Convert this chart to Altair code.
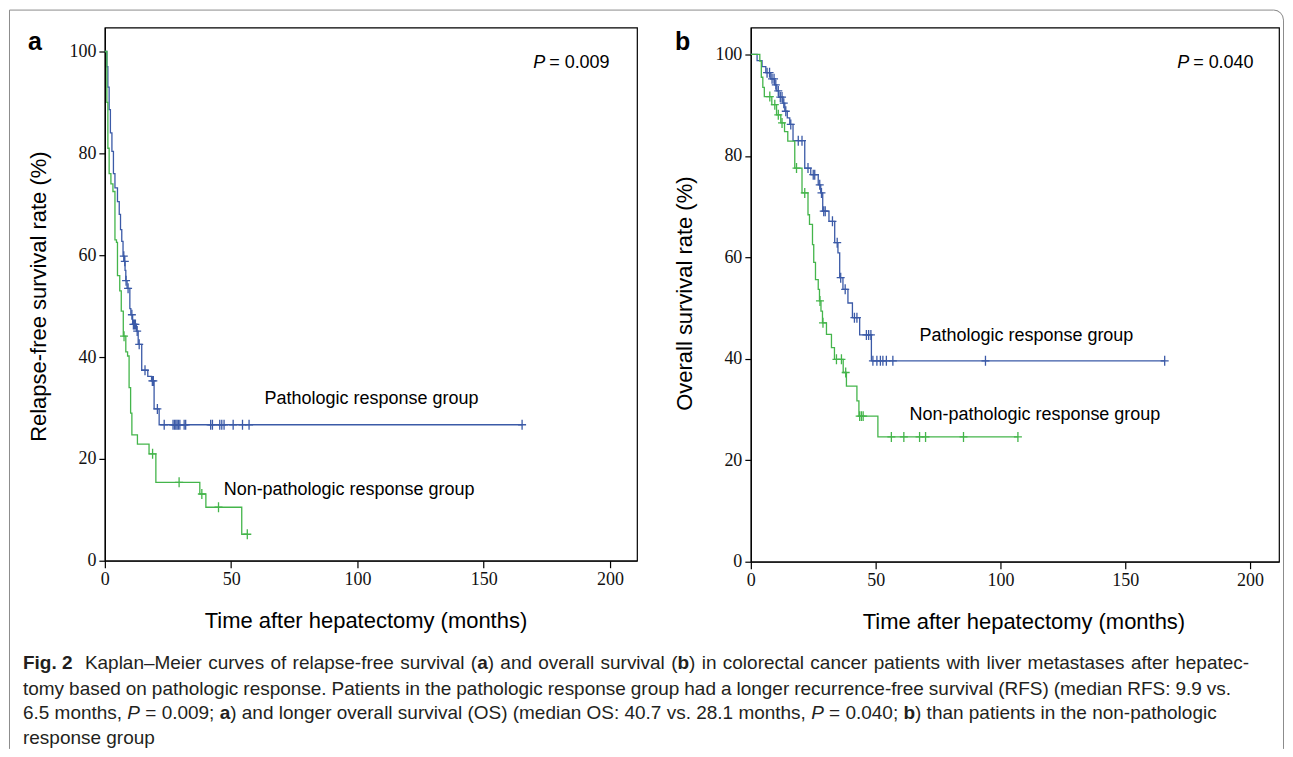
import altair as alt
import pandas as pd

BLUE = "#3B5AA7"
GREEN = "#44B54B"
FRAME = "#8c8c8c"
SANS = "Liberation Sans, Arial, sans-serif"
SERIF = "Liberation Serif, Times New Roman, serif"

# ---------------- Panel a : relapse-free survival ----------------
A_PR_T = [0, 0.8, 1.2, 1.7, 2.2, 2.8, 3.4, 4.0, 5.0, 5.7, 6.2, 6.7, 7.2, 7.7, 8.0, 8.3, 8.8, 9.9,
          10.3, 11.0, 12.5, 13.2, 14.6, 17.0, 18.5, 19.5, 21.5, 165.2]
A_PR_S = [100, 97, 93, 88.6, 84, 80.4, 76, 73.2, 70.5, 68, 65, 62.7, 59.8, 58.8, 57, 55, 53.5, 49.5,
          48.3, 46.4, 45.1, 42.5, 37.4, 36.2, 35.3, 29.8, 26.7, 26.7]
A_PR_C = [7.5, 7.9, 8.4, 9.2, 10.7, 11.3, 11.7, 12.1, 12.8, 13.6, 15.9, 18.8, 19.2, 20.8, 23.5,
          27.0, 27.6, 28.1, 28.6, 29.1, 29.7, 31.4, 32.0, 41.9, 42.6, 45.5, 46.3, 47.2, 50.8,
          54.5, 57.1, 165.2]

A_NR_T = [0, 0.8, 1.2, 1.7, 2.4, 3.2, 4.0, 4.6, 5.0, 5.9, 6.5, 7.3, 8.3, 9.0, 9.6, 10.2, 10.7,
          12.9, 17.5, 20.2, 37.6, 40.0, 54.2, 56.4]
A_NR_S = [100, 90, 81, 76, 74, 72.5, 63, 62.5, 56, 53, 49, 44.1, 41, 40.2, 34, 29, 24.7,
          22.9, 21.0, 15.4, 13.1, 10.5, 5.2, 5.2]
A_NR_C = [7.6, 18.9, 29.4, 38.4, 45.0, 56.4]

# ---------------- Panel b : overall survival ----------------
B_PR_T = [0, 2.5, 4.5, 6.0, 8.0, 9.5, 10.4, 11.2, 12.8, 13.6, 14.6, 15.6, 16.9, 21.6, 24.0, 27.0,
          28.0, 28.8, 31.3, 33.6, 34.9, 35.6, 36.9, 38.9, 40.7, 43.6, 48.3, 165.8]
B_PR_S = [100, 98.8, 97.6, 96.4, 95.2, 94.0, 92.8, 91.6, 90.4, 88.8, 87.5, 86.2, 83.0, 77.6, 76.3,
          74.3, 72.7, 69.1, 67.1, 62.9, 60.9, 56.0, 53.7, 51.0, 48.1, 44.7, 39.6, 39.6]
B_PR_C = [6.5, 7.5, 8.5, 9.3, 10.0, 11.0, 11.8, 12.5, 13.2, 14.0, 16.0, 19.0, 20.5, 22.9, 25.0,
          25.6, 27.6, 28.3, 29.2, 29.8, 32.7, 34.6, 36.0, 37.8, 41.5, 42.5, 46.3, 47.2, 48.1,
          48.9, 50.5, 51.9, 52.9, 54.3, 56.9, 94.0, 165.8]

B_NR_T = [0, 3.6, 4.2, 4.8, 5.4, 8.4, 10.3, 12.0, 13.5, 14.8, 17.6, 20.5, 22.9, 23.5, 24.7, 25.2,
          25.9, 27.0, 27.5, 28.1, 28.7, 30.3, 32.3, 33.5, 37.0, 38.3, 42.5, 43.3, 50.9, 107.0]
B_NR_S = [100, 98.7, 95.5, 93.5, 91.7, 90.1, 88.1, 86.5, 84.8, 82.9, 77.6, 72.7, 68.4, 66.5, 62.5,
          59.0, 55.6, 53.7, 51.4, 49.4, 47.1, 44.8, 42.2, 39.9, 37.3, 34.6, 31.7, 28.7, 24.6, 24.6]
B_NR_C = [7.6, 9.6, 11.0, 12.5, 18.3, 21.6, 27.7, 28.9, 34.3, 36.3, 38.0, 43.6, 44.3, 45.0,
          56.3, 61.3, 67.6, 70.0, 85.2, 107.0]

X_TICKS = [0, 50, 100, 150, 200]
Y_TICKS = [0, 20, 40, 60, 80, 100]

# caption: *x* = bold, _x_ = italic
CAPTION = [
    "Kaplan\u2013Meier curves of relapse-free survival (*a*) and overall survival (*b*) in colorectal cancer patients with liver metastases after hepatec-",
    "tomy based on pathologic response. Patients in the pathologic response group had a longer recurrence-free survival (RFS) (median RFS: 9.9 vs.",
    "6.5 months, _P_ = 0.009; *a*) and longer overall survival (OS) (median OS: 40.7 vs. 28.1 months, _P_ = 0.040; *b*) than patients in the non-pathologic",
    "response group",
]

# ---- layout helpers (Arial/Liberation Sans advance widths, 1/1000 em) ----
_W = {" ": 278, "(": 333, ")": 333, ",": 278, "-": 333, ".": 278, ":": 278, ";": 278, "=": 584,
      "%": 889, "\u2013": 556}
for _c in "0123456789":
    _W[_c] = 556
_W.update(dict(zip("ABCDEFGHIJKLMNOPQRSTUVWXYZ",
                   [667, 667, 722, 722, 667, 611, 778, 722, 278, 500, 667, 556, 833, 722, 778,
                    667, 778, 722, 667, 611, 722, 667, 944, 667, 667, 611])))
_W.update(dict(zip("abcdefghijklmnopqrstuvwxyz",
                   [556, 556, 500, 556, 556, 278, 556, 556, 222, 222, 500, 222, 833, 556, 556,
                    556, 556, 333, 500, 278, 556, 500, 722, 500, 500, 500])))
_WB = dict(_W)
_WB.update({"b": 611, "g": 611, "i": 278, "F": 611})


def tw(s, size, bold=False):
    tab = _WB if bold else _W
    return sum(tab.get(ch, 556) for ch in s) * size / 1000.0


def runs_of(word):
    out, cur, mode = [], "", "n"
    for ch in word:
        if ch in "*_":
            m = "b" if ch == "*" else "i"
            if cur:
                out.append((cur, mode))
            cur = ""
            mode = "n" if mode == m else m
        else:
            cur += ch
    if cur:
        out.append((cur, mode))
    return out


def step_value(ts, ss, t):
    v = ss[0]
    for ti, si in zip(ts, ss):
        if ti <= t:
            v = si
    return v


def one():
    return alt.Chart(alt.Data(values=[{}]))


def txt(text, x, y, size, font=SANS, weight="normal", style="normal",
        align="left", baseline="alphabetic", color="black"):
    return one().mark_text(
        text=text, font=font, fontSize=size, fontWeight=weight, fontStyle=style,
        align=align, baseline=baseline, color=color
    ).encode(x=alt.value(x), y=alt.value(y))


def caption_line(line, x0, y, size, x1=None, color="#231f20"):
    """Lay a caption line out run by run; optionally stretch word gaps to reach x1."""
    words = [runs_of(w) for w in line.split(" ")]
    widths = [sum(tw(t, size, m == "b") for t, m in w) for w in words]
    gap = tw(" ", size)
    if x1 is not None and len(words) > 1:
        natural = sum(widths) + gap * (len(words) - 1)
        gap = gap + (x1 - x0 - natural) / (len(words) - 1)
    marks, x = [], x0
    for w, wd in zip(words, widths):
        xx = x
        for t, m in w:
            marks.append(txt(t, round(xx, 2), y, size, weight="bold" if m == "b" else "normal",
                             style="italic" if m == "i" else "normal", color=color))
            xx += tw(t, size, m == "b")
        x += wd + gap
    return marks


def panel(curves, xmax, ymax, width, height, ytitle, ytitle_y, xtitle_x, extra):
    xenc = alt.X("t:Q", scale=alt.Scale(domain=[0, xmax], nice=False, zero=False),
                 axis=alt.Axis(values=X_TICKS, title="Time after hepatectomy (months)",
                               titleX=xtitle_x, titleY=60, titleBaseline="middle",
                               titleAlign="center"))
    yenc = alt.Y("s:Q", scale=alt.Scale(domain=[0, ymax], nice=False, zero=False),
                 axis=alt.Axis(values=Y_TICKS, title=ytitle, titleX=-66, titleY=ytitle_y,
                               titleAngle=270, titleBaseline="middle", titleAlign="center"))
    layers = []
    for ts, ss, cs, col in curves:
        line_df = pd.DataFrame({"t": ts, "s": ss})
        cen_df = pd.DataFrame({"t": cs, "s": [step_value(ts, ss, c) for c in cs]})
        layers.append(alt.Chart(line_df).mark_line(interpolate="step-after", color=col,
                                                   strokeWidth=1.3).encode(x=xenc, y=yenc))
        layers.append(alt.Chart(cen_df).mark_point(shape="M-0.8,0L0.8,0M0,-1L0,1", size=100,
                                                   filled=False, color=col, strokeWidth=1.3,
                                                   opacity=1).encode(x=xenc, y=yenc))
    return alt.layer(*layers, *extra).properties(width=width, height=height)


# panel a plot origin on page: (104, 26); panel b plot origin: (751, 26)
OX, OY = 104, 26
L, T, R, B, RAD = 8.5, 8.5, 1284.5, 748.5, 10
frame = [
    one().mark_rule(color=FRAME, strokeWidth=1).encode(
        x=alt.value(L - OX), x2=alt.value(R - RAD - OX), y=alt.value(T - OY)),
    one().mark_rule(color=FRAME, strokeWidth=1).encode(
        x=alt.value(L - OX), y=alt.value(T - OY), y2=alt.value(B - OY)),
    one().mark_rule(color=FRAME, strokeWidth=1).encode(
        x=alt.value(R - OX), y=alt.value(T + RAD - OY), y2=alt.value(B - OY)),
    one().mark_arc(radius=RAD + 0.5, radius2=RAD - 0.5, theta=0, theta2=1.5708,
                   color=FRAME).encode(x=alt.value(R - RAD - OX), y=alt.value(T + RAD - OY)),
]

CAP_SIZE = 19
cap = [txt("Fig.", 22 - OX, 668 - OY, CAP_SIZE, weight="bold", color="#231f20"),
       txt("2", 22 + tw("Fig. ", CAP_SIZE, True) - OX, 668 - OY, CAP_SIZE, weight="bold",
           color="#231f20")]
cap += caption_line(CAPTION[0], 84 - OX, 668 - OY, CAP_SIZE, x1=1250 - OX)
cap += caption_line(CAPTION[1], 22 - OX, 694 - OY, CAP_SIZE, x1=1232 - OX)
cap += caption_line(CAPTION[2], 22 - OX, 719 - OY, CAP_SIZE)
cap += caption_line(CAPTION[3], 22 - OX, 744 - OY, CAP_SIZE)

extra_a = frame + [
    txt("a", 27 - OX, 48 - OY, 25, weight="bold"),
    txt("P", 533 - OX, 67 - OY, 18, style="italic"),
    txt("= 0.009", 549 - OX, 67 - OY, 18),
    txt("Pathologic response group", 264 - OX, 403 - OY, 18),
    txt("Non-pathologic response group", 223 - OX, 494 - OY, 18),
] + cap

OXB = 751
extra_b = [
    txt("b", 675 - OXB, 48 - OY, 25, weight="bold"),
    txt("P", 1178 - OXB, 67 - OY, 18, style="italic"),
    txt("= 0.040", 1194 - OXB, 67 - OY, 18),
    txt("Pathologic response group", 920 - OXB, 340 - OY, 18),
    txt("Non-pathologic response group", 910 - OXB, 419 - OY, 18),
]

pa = panel([(A_PR_T, A_PR_S, A_PR_C, BLUE), (A_NR_T, A_NR_S, A_NR_C, GREEN)],
           210.7, 104.7, 533, 534, "Relapse-free survival rate (%)", 269, 261, extra_a)
pb = panel([(B_PR_T, B_PR_S, B_PR_C, BLUE), (B_NR_T, B_NR_S, B_NR_C, GREEN)],
           211.6, 105.3, 529, 535, "Overall survival rate (%)", 266, 273, extra_b)

chart = alt.hconcat(pa, pb, spacing=114, bounds="flush").properties(padding=0).configure_view(
    stroke="black", strokeWidth=1.2
).configure_axis(
    domainColor="black", domainWidth=1.2, tickColor="black", tickWidth=1.2,
    grid=False, labelFont=SERIF, labelFontSize=18, labelColor="#111111",
    titleFont=SANS, titleFontSize=22, titleFontWeight="normal", titleColor="black"
).configure_axisX(tickSize=7, labelPadding=3, labelFlush=False, labelOverlap=False
).configure_axisY(tickSize=6, labelPadding=3, labelOverlap=False)

chart.save("out.html", embed_options={"renderer": "svg", "actions": False})
